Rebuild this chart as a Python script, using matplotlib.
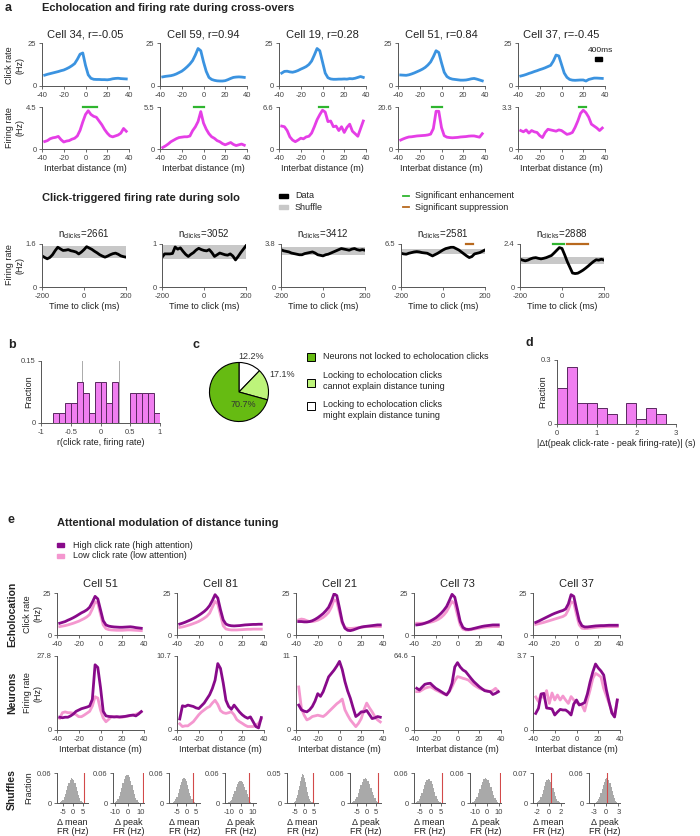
import numpy as np
import matplotlib
matplotlib.use('Agg')
import matplotlib.pyplot as plt
from matplotlib.patches import Rectangle
from matplotlib.lines import Line2D

plt.rcParams['font.family'] = ['Liberation Sans', 'DejaVu Sans']
plt.rcParams['axes.unicode_minus'] = False
plt.rcParams['mathtext.default'] = 'regular'

# ---------------- data ----------------
dist = np.arange(-37.5, 38, 2.5)      # interbat distance (m)
lag = np.arange(-200, 201, 12.5)      # time to click (ms)

# panel a, cross-overs
a_titles = ['Cell 34, r=-0.05', 'Cell 59, r=0.94', 'Cell 19, r=0.28', 'Cell 51, r=0.84', 'Cell 37, r=-0.45']
a_click = [
    [6.3, 6.8, 7.2, 7.6, 8.0, 8.4, 8.9, 9.3, 10.0, 10.8, 11.8, 13.0, 15.5, 18.5, 19.2, 12.0, 6.5, 4.5, 3.9, 3.8, 3.8, 3.7, 3.7, 3.6, 3.8, 4.2, 4.4, 4.5, 4.3, 4.2, 4.1],
    [5.3, 5.6, 5.8, 6.0, 6.4, 7.0, 7.8, 8.6, 9.8, 11.2, 12.8, 14.8, 18.0, 21.8, 20.5, 14.0, 8.5, 5.0, 3.8, 3.3, 3.0, 2.9, 2.9, 3.1, 3.7, 4.4, 5.0, 5.2, 5.3, 5.2, 5.0],
    [7.5, 8.5, 8.6, 8.2, 8.0, 8.4, 9.0, 9.8, 10.5, 11.3, 12.5, 14.5, 18.0, 21.8, 20.5, 14.0, 7.5, 4.8, 4.1, 3.9, 3.9, 4.0, 4.0, 4.1, 4.0, 4.3, 4.2, 4.5, 5.0, 5.5, 5.0],
    [6.4, 6.3, 6.2, 6.5, 7.0, 7.6, 8.3, 9.0, 9.8, 10.8, 12.2, 14.0, 17.0, 20.5, 19.5, 13.5, 8.0, 5.5, 4.5, 4.0, 3.8, 3.6, 3.4, 3.4, 3.5, 3.8, 4.2, 4.4, 4.0, 3.5, 3.0],
    [5.8, 6.2, 6.7, 7.3, 7.8, 8.4, 8.9, 9.5, 10.0, 10.6, 11.3, 12.0, 14.5, 18.0, 17.5, 12.5, 7.5, 5.0, 3.8, 3.4, 3.3, 3.4, 3.5, 3.5, 2.9, 3.8, 4.2, 4.6, 4.6, 4.5, 4.4],
]
a_fr = [
    [0.8, 0.9, 1.1, 1.2, 1.25, 1.35, 1.0, 0.75, 0.85, 0.9, 1.05, 1.15, 1.4, 2.0, 2.9, 3.7, 4.1, 3.7, 3.5, 3.4, 3.0, 2.6, 2.1, 1.7, 1.4, 1.3, 1.4, 1.5, 1.7, 2.2, 1.9],
    [0.2, 0.4, 0.65, 0.95, 1.15, 1.35, 1.5, 1.55, 1.6, 1.6, 1.7, 2.4, 2.9, 3.6, 4.9, 3.4, 2.6, 2.0, 1.6, 1.4, 1.1, 0.95, 0.7, 0.55, 0.7, 0.85, 0.6, 0.45, 0.55, 0.65, 0.5],
    [3.6, 3.5, 2.9, 1.9, 1.4, 1.15, 1.4, 1.7, 1.6, 1.9, 2.0, 2.5, 3.5, 4.6, 5.4, 6.1, 5.8, 4.3, 4.4, 3.5, 3.6, 2.9, 3.5, 2.6, 3.4, 3.9, 2.8, 2.4, 2.0, 3.2, 4.4],
    [4.4, 5.0, 5.5, 5.9, 6.0, 6.2, 6.4, 6.5, 6.6, 6.7, 6.9, 7.3, 10.0, 18.5, 18.5, 10.5, 6.5, 5.8, 5.6, 5.5, 5.6, 5.7, 5.9, 6.0, 6.1, 6.3, 6.4, 6.4, 6.1, 5.8, 7.5],
    [1.45, 1.35, 1.5, 1.25, 1.45, 1.35, 1.3, 1.05, 0.9, 1.3, 1.55, 1.5, 1.45, 1.4, 1.5, 1.45, 1.3, 1.15, 1.2, 1.3, 1.7, 2.2, 2.8, 3.05, 2.85, 2.5, 1.95, 1.8, 1.65, 1.45, 1.65],
]
a_fr_top = [4.5, 5.5, 6.6, 20.6, 3.3]
a_sig = [(-2, 11), (-9, 0), (-3, 5), (-9, 0.5), (16.5, 22.5)]

# click-triggered firing rate during solo
solo_n = [2661, 3052, 3412, 2581, 2888]
solo_top = [1.6, 1, 3.8, 6.5, 2.4]
solo_fr = [
    [1.16, 1.1, 1.05, 1.1, 1.2, 1.35, 1.48, 1.42, 1.36, 1.37, 1.39, 1.35, 1.33, 1.3, 1.23, 1.3, 1.39, 1.5, 1.45, 1.4, 1.33, 1.27, 1.2, 1.15, 1.11, 1.15, 1.2, 1.24, 1.26, 1.22, 1.16, 1.13, 1.11],
    [0.69, 0.77, 0.77, 0.77, 0.78, 0.93, 0.88, 0.91, 0.83, 0.76, 0.71, 0.76, 0.8, 0.86, 0.9, 0.87, 0.85, 0.84, 0.87, 0.8, 0.71, 0.75, 0.79, 0.77, 0.75, 0.74, 0.77, 0.72, 0.63, 0.71, 0.8, 0.88, 0.96],
    [3.3, 3.2, 3.15, 3.1, 3.0, 2.95, 2.9, 2.85, 2.85, 2.95, 3.0, 3.05, 3.1, 3.0, 2.85, 2.8, 2.75, 2.85, 2.9, 3.0, 3.1, 3.2, 3.3, 3.4, 3.35, 3.3, 3.25, 3.35, 3.4, 3.3, 3.25, 3.3, 3.25],
    [5.1, 5.0, 4.96, 5.1, 5.2, 5.3, 5.35, 5.3, 5.2, 5.15, 5.1, 4.9, 4.7, 4.9, 5.1, 5.35, 5.6, 5.8, 5.9, 6.0, 6.0, 5.8, 5.6, 5.3, 5.0, 4.7, 4.45, 4.6, 5.0, 5.1, 5.2, 5.4, 5.6],
    [1.55, 1.5, 1.46, 1.5, 1.57, 1.62, 1.64, 1.6, 1.57, 1.6, 1.64, 1.7, 1.76, 1.9, 2.05, 2.2, 2.15, 1.8, 1.42, 1.1, 0.78, 0.75, 0.77, 0.85, 0.94, 1.05, 1.17, 1.3, 1.42, 1.52, 1.5, 1.55, 1.5],
]
solo_shuffle = [(1.07, 1.54), (0.65, 0.98), (2.84, 3.53), (4.96, 5.73), (1.29, 1.70)]
solo_enh = [None, None, None, None, (-45, 10)]
solo_sup = [None, None, None, (109, 141), (25, 125)]

# panel b
b_left = np.arange(-0.8, 0.95, 0.1)
b_frac = [0.024, 0.024, 0.049, 0.049, 0.098, 0.073, 0.024, 0.098, 0.098, 0.049, 0.098, 0, 0, 0.073, 0.073, 0.073, 0.073, 0.024]
b_thresh = [-0.31, 0.31]

# panel c
c_values = [12.2, 17.1, 70.7]
c_labels = ['12.2%', '17.1%', '70.7%']
c_legend = ['Neurons not locked to echolocation clicks',
            'Locking to echolocation clicks\ncannot explain distance tuning',
            'Locking to echolocation clicks\nmight explain distance tuning']

# panel d
d_left = np.arange(0, 2.7, 0.25)
d_frac = [0.171, 0.268, 0.098, 0.098, 0.073, 0.049, 0, 0.098, 0.024, 0.073, 0.049]

# panel e
e_titles = ['Cell 51', 'Cell 81', 'Cell 21', 'Cell 73', 'Cell 37']
e_click_high = [
    [7.0, 7.5, 8.0, 8.8, 9.5, 10.3, 11.2, 12.2, 13.2, 14.0, 15.0, 16.5, 19.5, 23.0, 21.5, 15.0, 8.5, 6.0, 5.3, 5.0, 4.8, 4.7, 4.6, 4.6, 4.7, 4.8, 4.9, 4.7, 4.4, 4.2, 4.0],
    [6.5, 7.0, 7.6, 8.3, 9.0, 9.8, 10.7, 11.7, 12.8, 14.0, 15.5, 17.5, 20.5, 24.0, 22.0, 15.0, 9.0, 6.5, 5.8, 5.5, 5.4, 5.5, 5.6, 5.8, 6.0, 6.1, 6.2, 6.3, 6.3, 6.4, 6.4],
    [8.0, 8.0, 7.8, 7.8, 8.0, 8.5, 9.3, 10.3, 11.5, 12.8, 14.5, 16.5, 20.0, 24.5, 23.5, 16.0, 8.0, 4.0, 2.8, 2.6, 3.0, 3.6, 4.2, 4.7, 5.0, 5.2, 5.4, 5.6, 5.8, 6.0, 6.0],
    [6.0, 6.2, 6.5, 7.0, 7.6, 8.3, 9.2, 10.2, 11.5, 13.0, 14.8, 17.0, 20.5, 24.2, 22.5, 15.5, 8.0, 4.5, 3.5, 3.3, 3.5, 3.9, 4.3, 4.7, 5.1, 5.4, 5.6, 5.8, 6.0, 6.0, 6.0],
    [7.5, 8.2, 9.0, 9.8, 10.6, 11.4, 12.2, 12.9, 13.5, 14.1, 14.6, 15.5, 18.5, 24.0, 23.0, 15.5, 8.5, 5.5, 4.8, 4.8, 5.0, 5.2, 5.4, 5.5, 5.6, 5.6, 5.7, 5.8, 5.8, 5.8, 5.8],
]
e_click_low = [
    [5.0, 5.3, 5.6, 6.0, 6.5, 7.0, 7.6, 8.2, 9.0, 9.8, 10.8, 12.2, 15.5, 19.8, 19.0, 12.5, 6.0, 3.8, 3.2, 3.0, 2.9, 2.8, 2.8, 2.8, 2.9, 3.0, 3.0, 2.9, 2.8, 2.7, 2.6],
    [4.5, 4.8, 5.2, 5.7, 6.2, 6.8, 7.4, 8.1, 9.0, 10.0, 11.2, 13.0, 16.5, 20.0, 18.5, 12.0, 5.5, 3.6, 3.2, 3.0, 3.0, 3.0, 3.1, 3.2, 3.3, 3.4, 3.4, 3.5, 3.5, 3.5, 3.5],
    [9.0, 9.5, 9.2, 8.5, 8.0, 8.0, 8.3, 8.8, 9.6, 10.5, 11.8, 13.5, 16.5, 21.0, 20.0, 13.5, 7.0, 4.5, 4.0, 3.9, 4.0, 4.2, 4.4, 4.6, 4.8, 5.0, 5.0, 5.0, 5.0, 5.0, 5.0],
    [7.0, 7.0, 7.0, 7.1, 7.3, 7.6, 8.0, 8.6, 9.4, 10.5, 12.0, 14.0, 17.0, 20.0, 18.5, 12.0, 6.0, 3.5, 3.0, 3.0, 3.2, 3.5, 3.8, 4.1, 4.4, 4.6, 4.8, 4.9, 5.0, 5.0, 5.0],
    [6.3, 6.7, 7.1, 7.5, 8.0, 8.5, 9.0, 9.5, 10.0, 10.5, 11.0, 12.0, 15.0, 19.8, 19.0, 12.0, 6.0, 4.0, 3.8, 3.9, 4.1, 4.3, 4.5, 4.7, 4.8, 4.9, 5.0, 5.0, 5.0, 5.0, 5.0],
]
e_fr_high = [
    [4.8, 4.6, 4.8, 4.8, 5.3, 6.0, 7.0, 7.5, 8.0, 8.3, 8.6, 9.0, 11.5, 24.5, 23.5, 16.0, 7.0, 5.3, 5.1, 5.0, 4.9, 5.0, 4.9, 5.0, 5.1, 5.3, 5.5, 5.6, 5.3, 6.0, 6.9],
    [1.6, 3.5, 3.4, 3.6, 3.5, 3.4, 3.2, 3.1, 3.5, 3.9, 4.5, 5.1, 6.0, 7.2, 9.6, 8.9, 6.8, 4.3, 3.4, 3.0, 3.6, 3.1, 2.6, 2.2, 1.9, 1.7, 1.9, 1.2, 0.5, 0.3, 1.8],
    [3.7, 3.0, 2.8, 2.7, 3.0, 3.5, 4.3, 5.4, 5.0, 5.7, 6.8, 7.9, 8.4, 8.9, 9.5, 10.2, 9.0, 7.2, 5.8, 4.7, 3.3, 2.0, 2.3, 2.7, 2.7, 2.9, 2.3, 1.7, 1.8, 2.0, 1.9],
    [36.4, 34.9, 37.5, 39.9, 40.5, 40.8, 38.5, 36.4, 35.0, 33.5, 32.0, 30.6, 34.0, 40.8, 55.0, 58.8, 55.0, 52.4, 51.0, 48.0, 45.0, 42.2, 40.0, 37.8, 36.0, 34.3, 33.8, 33.5, 31.0, 32.0, 33.5],
    [0.83, 1.08, 1.8, 1.83, 1.1, 1.08, 1.05, 0.75, 0.9, 1.03, 1.0, 1.0, 0.9, 0.75, 1.3, 1.5, 1.25, 1.3, 1.37, 1.8, 2.4, 2.9, 3.3, 3.1, 2.95, 2.75, 2.0, 1.4, 0.85, 0.65, 1.5],
]
e_fr_low = [
    [4.4, 6.5, 6.8, 6.5, 6.5, 6.3, 5.8, 5.0, 5.0, 5.6, 6.3, 7.0, 9.0, 12.5, 12.0, 7.5, 4.5, 3.1, 4.0, 5.0, 5.0, 4.9, 4.8, 4.8, 5.0, 5.2, 5.4, 5.6, 5.9, 6.3, 6.9],
    [0.9, 0.5, 0.6, 0.6, 0.9, 1.2, 1.7, 2.2, 2.6, 2.9, 3.2, 3.4, 3.9, 4.3, 3.7, 2.8, 2.5, 2.4, 2.5, 2.65, 2.2, 1.5, 1.2, 0.96, 0.7, 0.5, 0.5, 0.5, 0.7, 0.96, 1.6],
    [6.4, 3.2, 2.2, 1.5, 1.7, 2.0, 2.1, 2.2, 2.1, 2.0, 2.3, 2.7, 3.1, 3.5, 3.9, 4.2, 4.6, 3.0, 2.2, 1.5, 1.0, 0.5, 1.0, 1.7, 3.0, 4.0, 3.3, 2.7, 2.0, 1.5, 1.2],
    [33.5, 33.5, 35.0, 36.4, 37.2, 37.8, 36.5, 34.9, 33.8, 32.6, 31.5, 30.6, 33.5, 37.8, 43.0, 46.6, 46.0, 45.1, 44.5, 43.6, 41.5, 39.3, 37.8, 36.4, 35.5, 34.9, 34.2, 33.5, 34.5, 36.4, 33.5],
    [1.65, 1.42, 1.8, 1.6, 1.97, 1.33, 1.85, 1.5, 1.75, 1.5, 1.7, 1.5, 1.33, 1.67, 1.5, 1.37, 1.3, 1.25, 0.95, 1.5, 2.0, 2.58, 2.83, 2.75, 2.65, 2.08, 1.7, 1.33, 0.95, 0.67, 1.5],
]
e_fr_top = [27.8, 10.7, 11, 64.6, 3.7]

# shuffles (two per cell: delta mean FR, delta peak FR)
shuf_kind = ['mean', 'peak'] * 5
shuf_range = [(-6.5, 5.5), (-10.5, 10), (-7, 5), (-11, 10), (-5.5, 4.5),
              (-7.5, 7), (-7, 5.5), (-12, 11), (-2, 2), (-2.5, 3)]
shuf_hist = [
    [0.002, 0.004, 0.007, 0.012, 0.018, 0.026, 0.034, 0.041, 0.047, 0.050, 0.049, 0.046, 0.040, 0.032, 0.024, 0.016, 0.010, 0.005, 0.003, 0.001],
    [0.002, 0.004, 0.008, 0.014, 0.022, 0.031, 0.040, 0.048, 0.054, 0.057, 0.056, 0.052, 0.045, 0.036, 0.027, 0.018, 0.011, 0.006, 0.003, 0.001],
    [0.002, 0.004, 0.008, 0.013, 0.020, 0.028, 0.036, 0.043, 0.048, 0.050, 0.048, 0.044, 0.037, 0.029, 0.021, 0.014, 0.008, 0.004, 0.002, 0.001],
    [0.002, 0.004, 0.007, 0.012, 0.018, 0.025, 0.032, 0.038, 0.042, 0.044, 0.045, 0.043, 0.039, 0.033, 0.026, 0.019, 0.012, 0.007, 0.003, 0.001],
    [0.002, 0.004, 0.008, 0.014, 0.021, 0.029, 0.037, 0.043, 0.047, 0.048, 0.046, 0.041, 0.035, 0.027, 0.019, 0.012, 0.007, 0.004, 0.002, 0.001],
    [0.002, 0.004, 0.008, 0.013, 0.020, 0.028, 0.036, 0.043, 0.048, 0.050, 0.049, 0.045, 0.039, 0.031, 0.023, 0.016, 0.010, 0.005, 0.002, 0.001],
    [0.002, 0.004, 0.008, 0.014, 0.021, 0.029, 0.037, 0.043, 0.047, 0.049, 0.048, 0.044, 0.038, 0.030, 0.022, 0.015, 0.009, 0.005, 0.002, 0.001],
    [0.002, 0.004, 0.008, 0.013, 0.020, 0.028, 0.036, 0.043, 0.048, 0.050, 0.049, 0.046, 0.040, 0.033, 0.025, 0.017, 0.011, 0.006, 0.003, 0.001],
    [0.002, 0.004, 0.008, 0.014, 0.022, 0.031, 0.040, 0.048, 0.053, 0.055, 0.054, 0.050, 0.043, 0.034, 0.025, 0.017, 0.010, 0.005, 0.002, 0.001],
    [0.002, 0.004, 0.008, 0.013, 0.020, 0.028, 0.036, 0.043, 0.048, 0.050, 0.049, 0.046, 0.040, 0.032, 0.024, 0.016, 0.010, 0.005, 0.002, 0.001],
]
shuf_obs = [5.7, 12.3, 3.6, 6.5, 4.5, 5.8, 5.5, 11, 0.3, 0.3]
shuf_xlim = [(-8, 7.5), (-12, 13), (-9, 7), (-14, 13), (-9, 7),
             (-8.5, 7.5), (-8, 7), (-14, 12), (-2.6, 2.5), (-4.2, 3.4)]
shuf_ticks = [[-5, 0, 5], [-10, 0, 10], [-5, 0, 5], [-10, 0, 10], [-5, 0, 5],
              [-5, 0, 5], [-5, 0, 5], [-10, 0, 10], [-2, 0, 2], [-3, 0, 3]]
shuf_top = [0.06, 0.06, 0.06, 0.06, 0.05, 0.06, 0.06, 0.06, 0.07, 0.06]

# ---------------- layout helpers ----------------
W, H = 700, 836
fig = plt.figure(figsize=(7, 8.36), dpi=100)

BLUE = '#3b93e0'
MAGENTA = '#e53ee6'
GREEN = '#2fb52f'
BROWN = '#b8691e'
HIGH = '#880a8a'
LOW = '#f497cf'
TXT = '#222222'


def add_ax(l, t, w, h):
    return fig.add_axes([l / W, 1 - (t + h) / H, w / W, h / H])


def ftext(x, y, s, **kw):
    kw.setdefault('va', 'center')
    kw.setdefault('color', TXT)
    fig.text(x / W, 1 - y / H, s, **kw)


def frect(x, y, w, h, **kw):
    fig.add_artist(Rectangle((x / W, 1 - (y + h) / H), w / W, h / H,
                             transform=fig.transFigure, **kw))


def fline(x0, x1, y, **kw):
    fig.add_artist(Line2D([x0 / W, x1 / W], [1 - y / H, 1 - y / H],
                          transform=fig.transFigure, **kw))


def style(ax):
    ax.spines['top'].set_visible(False)
    ax.spines['right'].set_visible(False)
    for s in ('left', 'bottom'):
        ax.spines[s].set_color('#555555')
        ax.spines[s].set_linewidth(0.7)
    ax.tick_params(direction='out', length=2.5, width=0.6, colors='#555555',
                   labelcolor='#444444', labelsize=5.5, pad=1.5)


def yticks_top(ax, top):
    ax.set_ylim(0, top)
    ax.set_yticks([0, top])
    ax.set_yticklabels(['0', f'{top:g}'])


def dist_axis(ax):
    ax.set_xlim(-40, 40)
    ax.set_xticks([-40, -20, 0, 20, 40])


# ---------------- panel a ----------------
ftext(5, 8, 'a', fontsize=9, fontweight='bold')
ftext(42, 8, 'Echolocation and firing rate during cross-overs', fontsize=8, fontweight='bold')
a_left = [42, 160, 279, 398, 518]
for i in range(5):
    ax = add_ax(a_left[i], 43, 87, 43)
    style(ax)
    ax.plot(dist, a_click[i], color=BLUE, lw=2)
    dist_axis(ax)
    yticks_top(ax, 25)
    ax.set_title(a_titles[i], fontsize=8, pad=4, color=TXT)

    ax = add_ax(a_left[i], 107, 87, 42)
    style(ax)
    ax.plot(dist, a_fr[i], color=MAGENTA, lw=2)
    dist_axis(ax)
    yticks_top(ax, a_fr_top[i])
    ax.plot(a_sig[i], [a_fr_top[i]] * 2, color=GREEN, lw=1.6, clip_on=False)
    ax.set_xlabel('Interbat distance (m)', fontsize=6.5, labelpad=2, color=TXT)

ftext(15, 65, 'Click rate\n(Hz)', fontsize=6.5, rotation=90, ha='center')
ftext(15, 128, 'Firing rate\n(Hz)', fontsize=6.5, rotation=90, ha='center')
ftext(600, 51, '400ms', fontsize=6, ha='center')
frect(595, 57, 7, 4, color='black')

# click-triggered
ftext(42, 198, 'Click-triggered firing rate during solo', fontsize=8, fontweight='bold')
frect(279, 194, 9, 4, color='black')
ftext(295, 196, 'Data', fontsize=6.5)
frect(279, 205, 9, 4, color='#c8c8c8')
ftext(295, 207, 'Shuffle', fontsize=6.5)
fline(403, 409, 196, color=GREEN, lw=1.3)
ftext(415, 196, 'Significant enhancement', fontsize=6.5)
fline(403, 409, 207, color=BROWN, lw=1.3)
ftext(415, 207, 'Significant suppression', fontsize=6.5)

s_left = [42, 162, 281, 401, 520]
for i in range(5):
    ax = add_ax(s_left[i], 244, 84, 43)
    style(ax)
    lo, hi = solo_shuffle[i]
    ax.fill_between([-200, 200], lo, hi, color='#c8c8c8', lw=0)
    ax.plot(lag, solo_fr[i], color='black', lw=2)
    ax.set_xlim(-200, 200)
    ax.set_xticks([-200, 0, 200])
    yticks_top(ax, solo_top[i])
    if solo_enh[i]:
        ax.plot(solo_enh[i], [solo_top[i]] * 2, color=GREEN, lw=1.6, clip_on=False)
    if solo_sup[i]:
        ax.plot(solo_sup[i], [solo_top[i]] * 2, color=BROWN, lw=1.6, clip_on=False)
    ax.set_title(r'$n_{clicks}$=%d' % solo_n[i], fontsize=7, pad=5, color=TXT)
    ax.set_xlabel('Time to click (ms)', fontsize=6.5, labelpad=2, color=TXT)
ftext(15, 265, 'Firing rate\n(Hz)', fontsize=6.5, rotation=90, ha='center')

# ---------------- panel b ----------------
ftext(8, 345, 'b', fontsize=9, fontweight='bold')
ax = add_ax(41, 361, 119, 62)
style(ax)
for x in b_thresh:
    ax.axvline(x, color='#aaaaaa', lw=0.7, zorder=0)
bl = [x for x, f in zip(b_left, b_frac) if f > 0]
bf = [f for f in b_frac if f > 0]
ax.bar(bl, bf, width=0.1, align='edge', color='#f07ef0', edgecolor='#5a2860', lw=0.7)
ax.set_xlim(-1, 1)
ax.set_xticks([-1, -0.5, 0, 0.5, 1])
ax.set_xticklabels(['-1', '-0.5', '0', '0.5', '1'])
ax.set_ylim(0, 0.15)
ax.set_yticks([0, 0.15])
ax.set_yticklabels(['0', '0.15'])
ax.set_xlabel('r(click rate, firing rate)', fontsize=6.5, labelpad=2, color=TXT)
ftext(29, 392, 'Fraction', fontsize=6.5, rotation=90, ha='center')

# ---------------- panel c ----------------
ftext(193, 345, 'c', fontsize=9, fontweight='bold')
ax = add_ax(208, 361, 62, 62)
ax.pie(c_values, colors=['white', '#bdf47a', '#66bb12'], startangle=90, counterclock=False,
       wedgeprops=dict(edgecolor='black', linewidth=0.8), radius=1)
ax.set_xlim(-1.05, 1.05)
ax.set_ylim(-1.05, 1.05)
ax.set_aspect('equal')
ax.text(0.42, 1.2, c_labels[0], fontsize=6.5, ha='center', va='center', color='#333333')
ax.text(1.45, 0.58, c_labels[1], fontsize=6.5, ha='center', va='center', color='#333333')
ax.text(0.13, -0.42, c_labels[2], fontsize=6.5, ha='center', va='center', color='#333333')
sq_cols = ['#66bb12', '#bdf47a', 'white']
sq_y = [357, 383, 406]
txt_y = [357, 381, 410]
for k in range(3):
    frect(307, sq_y[k] - 4, 8, 8, facecolor=sq_cols[k], edgecolor='black', lw=0.7)
    ftext(323, txt_y[k], c_legend[k], fontsize=6.5, linespacing=1.3)

# ---------------- panel d ----------------
ftext(525, 343, 'd', fontsize=9, fontweight='bold')
ax = add_ax(557, 360, 119, 64)
style(ax)
dl = [x for x, f in zip(d_left, d_frac) if f > 0]
df = [f for f in d_frac if f > 0]
ax.bar(dl, df, width=0.25, align='edge', color='#f07ef0', edgecolor='#5a2860', lw=0.7)
ax.set_xlim(0, 3)
ax.set_xticks([0, 1, 2, 3])
ax.set_ylim(0, 0.3)
ax.set_yticks([0, 0.3])
ax.set_yticklabels(['0', '0.3'])
ax.set_xlabel('|\u0394t(peak click-rate - peak firing-rate)| (s)', fontsize=6.5, labelpad=2, color=TXT)
ftext(543, 392, 'Fraction', fontsize=6.5, rotation=90, ha='center')

# ---------------- panel e ----------------
ftext(8, 520, 'e', fontsize=9, fontweight='bold')
ftext(57, 523, 'Attentional modulation of distance tuning', fontsize=8, fontweight='bold')
frect(57, 543, 7, 4, color=HIGH)
ftext(73, 545, 'High click rate (high attention)', fontsize=6.5)
frect(57, 554, 7, 4, color=LOW)
ftext(73, 556, 'Low click rate (low attention)', fontsize=6.5)

e_left = [57, 177, 296, 414, 533]
for i in range(5):
    ax = add_ax(e_left[i], 593, 87, 42)
    style(ax)
    ax.plot(dist, e_click_low[i], color=LOW, lw=2)
    ax.plot(dist, e_click_high[i], color=HIGH, lw=2)
    dist_axis(ax)
    yticks_top(ax, 25)
    ax.set_title(e_titles[i], fontsize=8, pad=4, color=TXT)

    ax = add_ax(e_left[i], 656, 87, 74)
    style(ax)
    ax.plot(dist, e_fr_low[i], color=LOW, lw=2)
    ax.plot(dist, e_fr_high[i], color=HIGH, lw=2)
    dist_axis(ax)
    yticks_top(ax, e_fr_top[i])
    ax.set_xlabel('Interbat distance (m)', fontsize=6.5, labelpad=2, color=TXT)

ftext(12, 614, 'Echolocation', fontsize=7.5, fontweight='bold', rotation=90, ha='center')
ftext(33, 614, 'Click rate\n(Hz)', fontsize=6.5, rotation=90, ha='center')
ftext(12, 693, 'Neurons', fontsize=7.5, fontweight='bold', rotation=90, ha='center')
ftext(33, 693, 'Firing rate\n(Hz)', fontsize=6.5, rotation=90, ha='center')
ftext(12, 790, 'Shuffles', fontsize=7.5, fontweight='bold', rotation=90, ha='center')
ftext(29, 788, 'Fraction', fontsize=6.5, rotation=90, ha='center')

sh_left = [57, 113, 169, 225, 287, 350, 414, 470, 533, 589]
for j in range(10):
    ax = add_ax(sh_left[j], 773, 31, 30)
    style(ax)
    lo, hi = shuf_range[j]
    edges = np.linspace(lo, hi, len(shuf_hist[j]) + 1)
    ax.stairs(shuf_hist[j], edges, fill=True, color='#a9a9a9', lw=0)
    ax.axvline(shuf_obs[j], color='#d24a4a', lw=0.8)
    ax.set_xlim(*shuf_xlim[j])
    ax.set_xticks(shuf_ticks[j])
    yticks_top(ax, shuf_top[j])
    ax.set_xlabel('\u0394 %s\nFR (Hz)' % shuf_kind[j], fontsize=6.5, labelpad=1.5,
                  color=TXT, linespacing=1.0)

fig.savefig('out.png', dpi=100)
